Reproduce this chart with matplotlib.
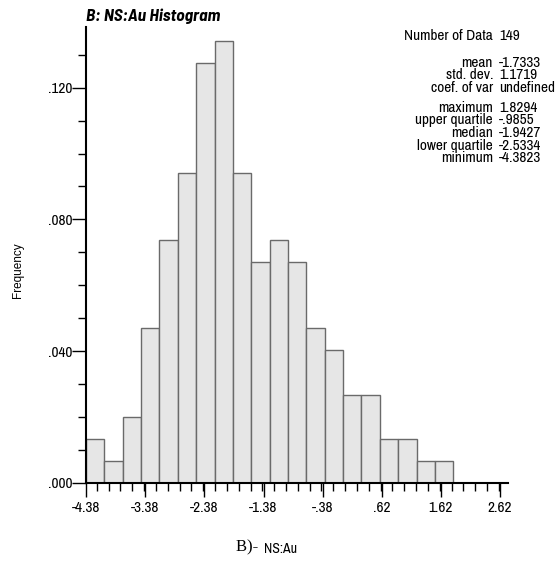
import numpy as np
import matplotlib
matplotlib.use("Agg")
import matplotlib.pyplot as plt
from matplotlib.ticker import MultipleLocator

# histogram counts per class (20 classes between min and max)
counts = [2, 1, 3, 7, 11, 14, 19, 20, 14, 10, 11, 10, 7, 6, 4, 4, 2, 2, 1, 1]
n_data = 149
v_min, v_max = -4.3823, 1.8294

xtick_labels = ["-4.38", "-3.38", "-2.38", "-1.38", "-.38", ".62", "1.62", "2.62"]
ytick_labels = [".000", ".040", ".080", ".120"]

stat_names = ["Number of Data", "mean", "std. dev.", "coef. of var",
              "maximum", "upper quartile", "median", "lower quartile", "minimum"]
stat_values = ["149", "-1.7333", "1.1719", "undefined",
               "1.8294", "-.9855", "-1.9427", "-2.5334", "-4.3823"]
stat_rows = [36, 63, 75.5, 88, 107.5, 120, 133, 146, 158.5]

narrow = ["Liberation Sans Narrow", "Archivo Narrow", "DejaVu Sans"]
title_font = ["Barlow Semi Condensed", "Liberation Sans", "DejaVu Sans"]

fig = plt.figure(figsize=(5.6, 5.61), dpi=100)
W, H = 560, 561
ax = fig.add_axes([86 / W, 1 - 483 / H, (508 - 86) / W, (483 - 27) / H])

edges = np.linspace(v_min, v_max, len(counts) + 1)
freq = np.array(counts) / n_data
ax.bar(edges[:-1], freq, width=np.diff(edges), align="edge",
       color="#e6e6e6", edgecolor="#6a6a6a", linewidth=1.0)

ax.set_xlim(v_min, 2.755)
ax.set_ylim(0, 0.1384)

ax.spines["top"].set_visible(False)
ax.spines["right"].set_visible(False)
ax.spines["left"].set_linewidth(1.5)
ax.spines["bottom"].set_linewidth(1.5)

ax.set_xticks([float(t) for t in xtick_labels])
ax.set_xticklabels(xtick_labels, family=narrow, fontsize=11)
ax.xaxis.set_minor_locator(MultipleLocator(0.2))
ax.set_yticks([float(t) for t in ytick_labels])
ax.set_yticklabels(ytick_labels, family=narrow, fontsize=11)
ax.yaxis.set_minor_locator(MultipleLocator(0.01))
ax.tick_params(axis="x", which="major", length=10, width=1, pad=3)
ax.tick_params(axis="x", which="minor", length=6, width=1)
ax.tick_params(axis="y", which="major", length=10, width=1, pad=0)
ax.tick_params(axis="y", which="minor", length=6, width=1)

fig.text(86 / W, 1 - 16 / H, "B: NS:Au Histogram", family=title_font,
         fontsize=12.5, fontweight="bold", fontstyle="italic", va="center")
fig.text(18 / W, 1 - 270 / H, "Frequency", rotation=90, fontsize=8.5,
         family=["Liberation Sans", "DejaVu Sans"], va="center", ha="center")

for name, val, y in zip(stat_names, stat_values, stat_rows):
    fig.text(493 / W, 1 - y / H, name, family=narrow, fontsize=11,
             ha="right", va="center")
    fig.text(499 / W, 1 - y / H, val, family=narrow, fontsize=11,
             ha="left", va="center")

fig.text(262 / W, 1 - 547 / H, "B)- ", family=["Liberation Serif", "DejaVu Serif"],
         fontsize=12, ha="right", va="center")
fig.text(264 / W, 1 - 549 / H, "NS:Au", family=narrow, fontsize=10,
         ha="left", va="center")

fig.savefig("out.png", dpi=100)
